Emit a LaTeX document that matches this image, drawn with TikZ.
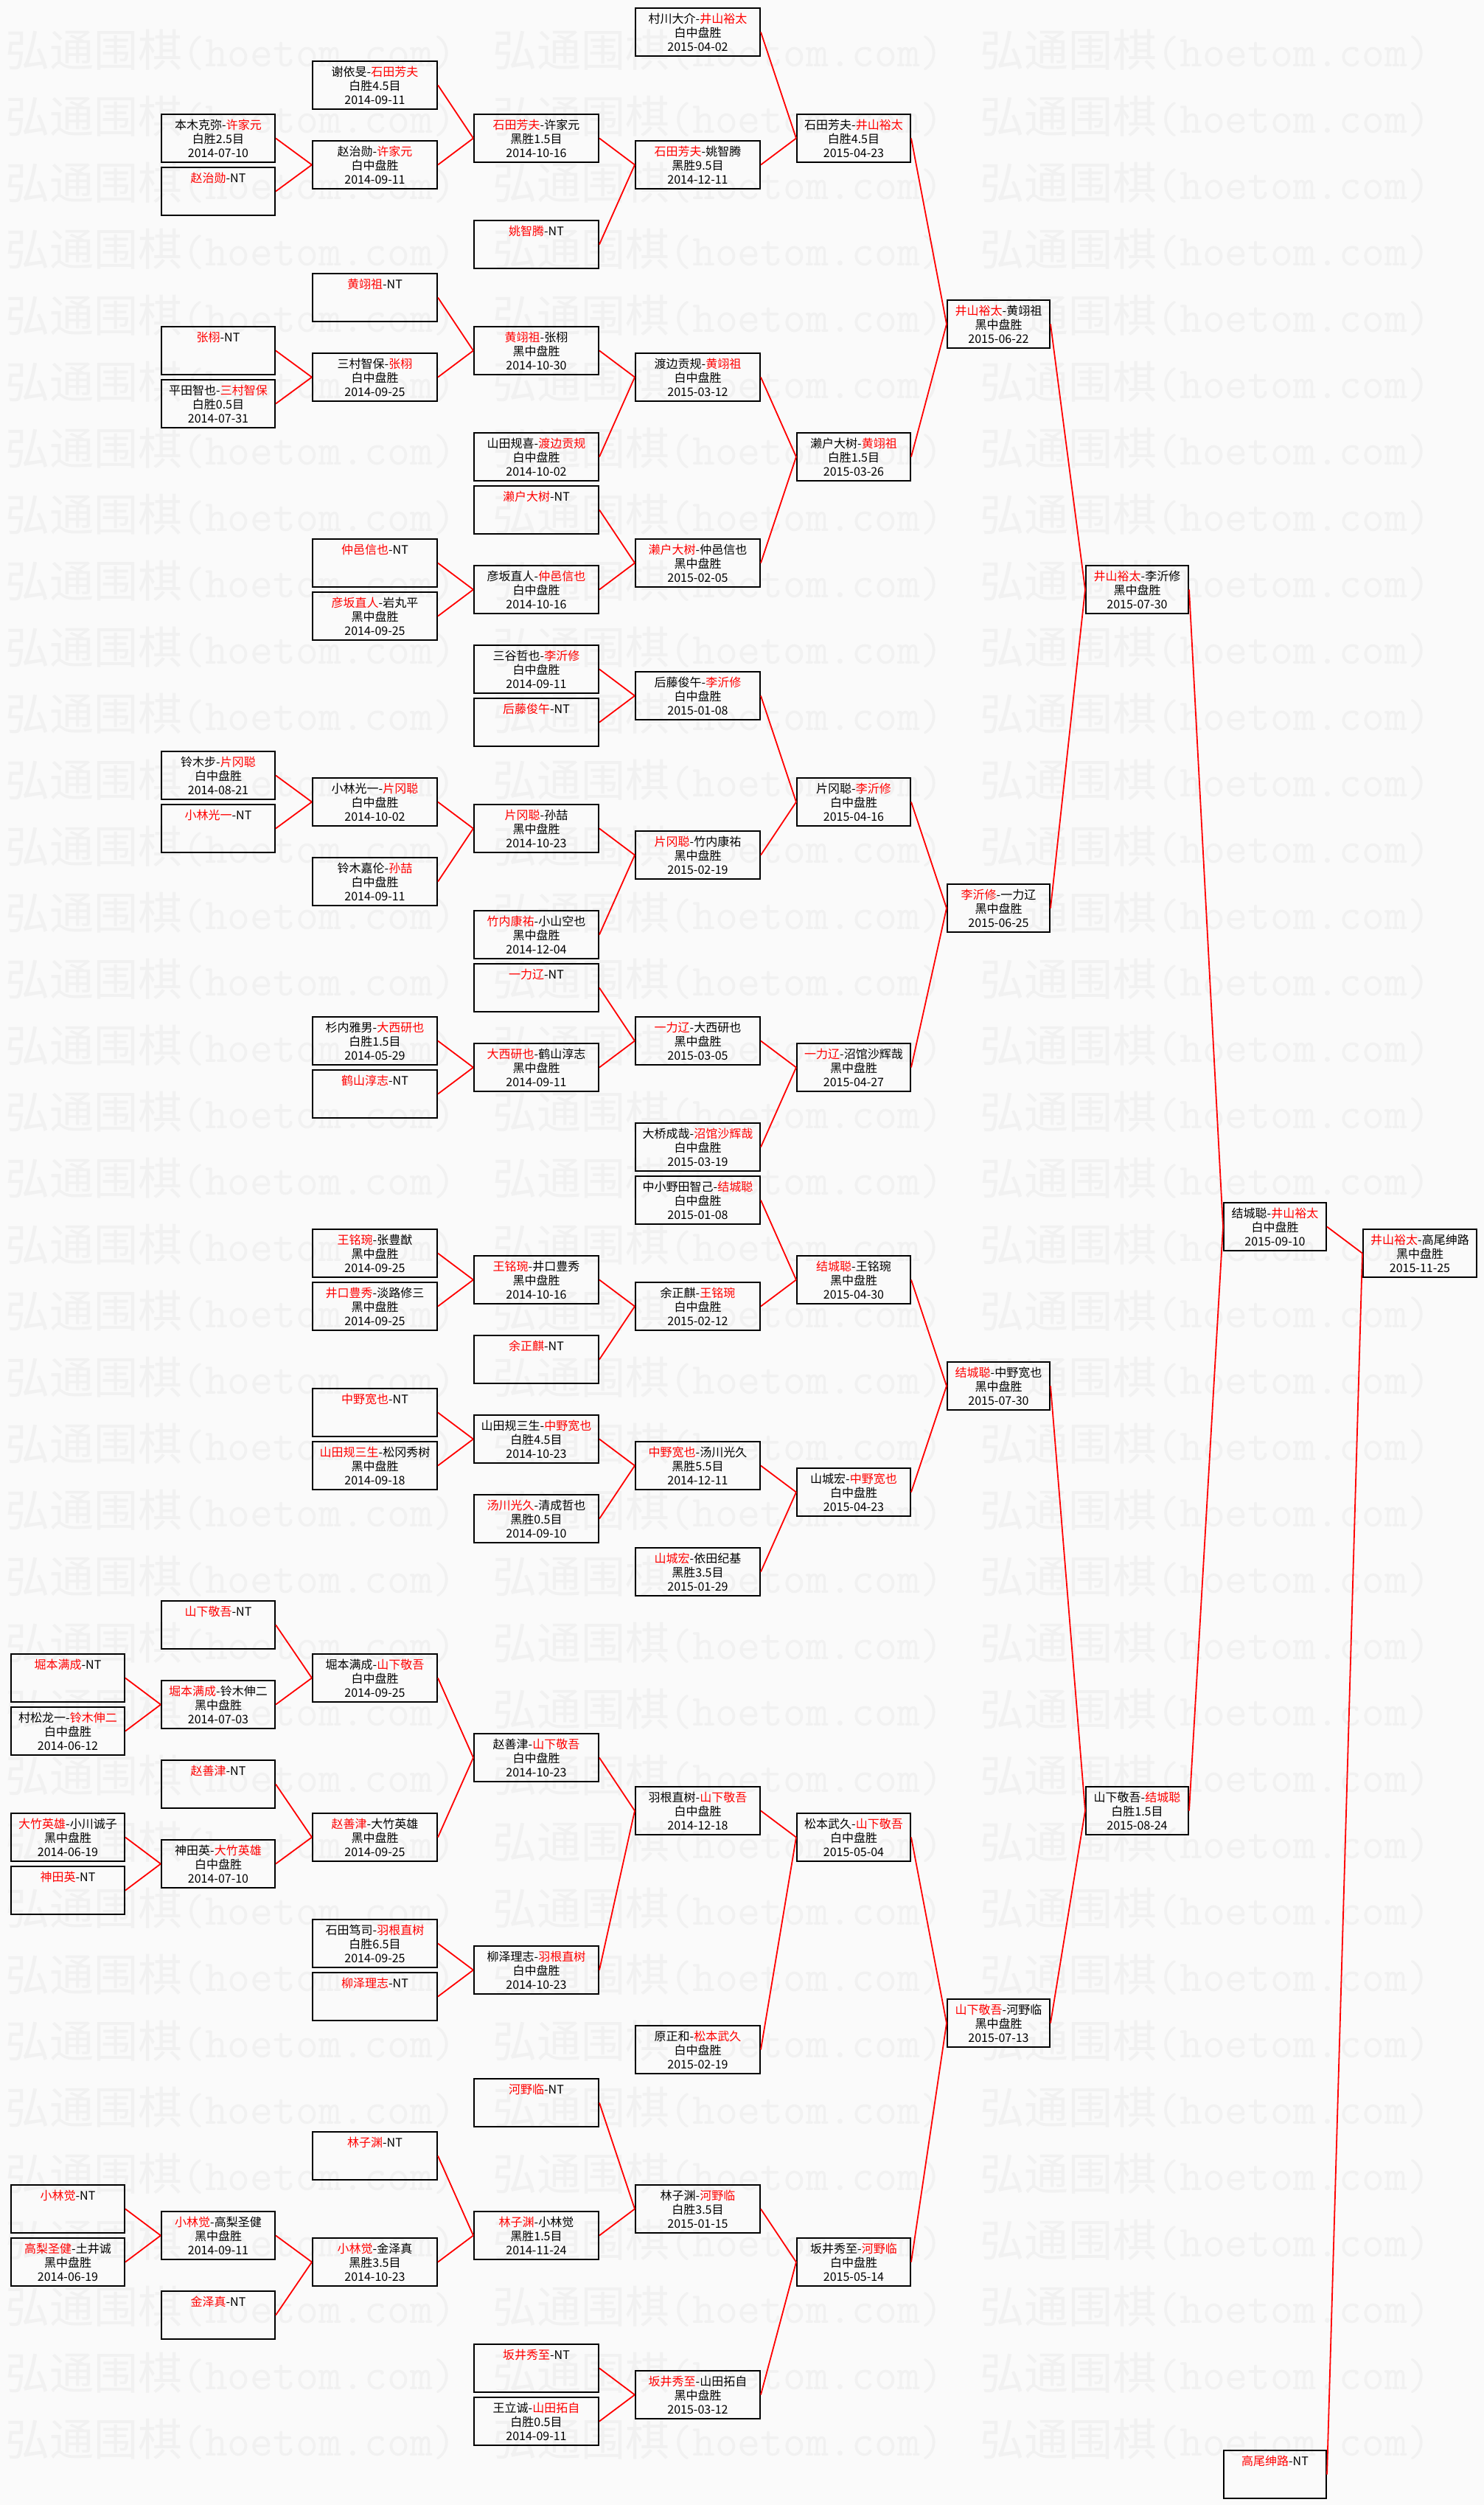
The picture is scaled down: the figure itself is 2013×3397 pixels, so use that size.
\documentclass[tikz,border=0pt]{standalone}
\usepackage{fontspec}
\newfontfamily\zh{Noto Sans CJK SC}
\definecolor{fon}{RGB}{250,250,250}
\definecolor{znak}{RGB}{241,241,241}
\definecolor{pobeda}{RGB}{255,0,0}
\newcommand{\win}[1]{\textcolor{pobeda}{#1}}

\begin{document}
\begin{tikzpicture}[x=1pt, y=-1pt,
    game/.style={draw, line width=2pt, anchor=north west, minimum height=65pt,
        inner sep=0pt, align=center, font=\zh\fontsize{16}{19}\selectfont},
    narrowbox/.style={game, minimum width=154pt},
    widebox/.style={game, minimum width=169pt},
    slimbox/.style={game, minimum width=139pt},
    link/.style={pobeda, line width=1.8pt},
    wmark/.style={znak, anchor=west, inner sep=0pt, font=\zh\fontsize{60}{60}\selectfont}]
    % Фон
    \useasboundingbox (0,0) rectangle (2013,3397);
    \fill[fon] (0,0) rectangle (2013,3397);
    \foreach \r in {0,...,36}
        \foreach \c in {0,1,2}
            \node[wmark] at ({7+661*\c},{68+90*\r}) {弘通围棋{\ttfamily(hoetom.com)}};

    % Колонка A
    \node[narrowbox] (a62) at (14,2242) {\win{堀本满成}-NT\\~\\~};
    \node[narrowbox] (a64) at (14,2314) {村松龙一-\win{铃木伸二}\\白中盘胜\\2014-06-12};
    \node[narrowbox] (a68) at (14,2458) {\win{大竹英雄}-小川诚子\\黑中盘胜\\2014-06-19};
    \node[narrowbox] (a70) at (14,2530) {\win{神田英}-NT\\~\\~};
    \node[narrowbox] (a82) at (14,2962) {\win{小林觉}-NT\\~\\~};
    \node[narrowbox] (a84) at (14,3034) {\win{高梨圣健}-土井诚\\黑中盘胜\\2014-06-19};

    % Колонка B
    \node[narrowbox] (b4) at (218,154) {本木克弥-\win{许家元}\\白胜2.5目\\2014-07-10};
    \node[narrowbox] (b6) at (218,226) {\win{赵治勋}-NT\\~\\~};
    \node[narrowbox] (b12) at (218,442) {\win{张栩}-NT\\~\\~};
    \node[narrowbox] (b14) at (218,514) {平田智也-\win{三村智保}\\白胜0.5目\\2014-07-31};
    \node[narrowbox] (b28) at (218,1018) {铃木步-\win{片冈聪}\\白中盘胜\\2014-08-21};
    \node[narrowbox] (b30) at (218,1090) {\win{小林光一}-NT\\~\\~};
    \node[narrowbox] (b60) at (218,2170) {\win{山下敬吾}-NT\\~\\~};
    \node[narrowbox] (b63) at (218,2278) {\win{堀本满成}-铃木伸二\\黑中盘胜\\2014-07-03};
    \node[narrowbox] (b66) at (218,2386) {\win{赵善津}-NT\\~\\~};
    \node[narrowbox] (b69) at (218,2494) {神田英-\win{大竹英雄}\\白中盘胜\\2014-07-10};
    \node[narrowbox] (b83) at (218,2998) {\win{小林觉}-高梨圣健\\黑中盘胜\\2014-09-11};
    \node[narrowbox] (b86) at (218,3106) {\win{金泽真}-NT\\~\\~};

    % Колонка C
    \node[widebox] (c2) at (423,82) {谢依旻-\win{石田芳夫}\\白胜4.5目\\2014-09-11};
    \node[widebox] (c5) at (423,190) {赵治勋-\win{许家元}\\白中盘胜\\2014-09-11};
    \node[widebox] (c10) at (423,370) {\win{黄翊祖}-NT\\~\\~};
    \node[widebox] (c13) at (423,478) {三村智保-\win{张栩}\\白中盘胜\\2014-09-25};
    \node[widebox] (c20) at (423,730) {\win{仲邑信也}-NT\\~\\~};
    \node[widebox] (c22) at (423,802) {\win{彦坂直人}-岩丸平\\黑中盘胜\\2014-09-25};
    \node[widebox] (c29) at (423,1054) {小林光一-\win{片冈聪}\\白中盘胜\\2014-10-02};
    \node[widebox] (c32) at (423,1162) {铃木嘉伦-\win{孙喆}\\白中盘胜\\2014-09-11};
    \node[widebox] (c38) at (423,1378) {杉内雅男-\win{大西研也}\\白胜1.5目\\2014-05-29};
    \node[widebox] (c40) at (423,1450) {\win{鹤山淳志}-NT\\~\\~};
    \node[widebox] (c46) at (423,1666) {\win{王铭琬}-张豊猷\\黑中盘胜\\2014-09-25};
    \node[widebox] (c48) at (423,1738) {\win{井口豊秀}-淡路修三\\黑中盘胜\\2014-09-25};
    \node[widebox] (c52) at (423,1882) {\win{中野宽也}-NT\\~\\~};
    \node[widebox] (c54) at (423,1954) {\win{山田规三生}-松冈秀树\\黑中盘胜\\2014-09-18};
    \node[widebox] (c62) at (423,2242) {堀本满成-\win{山下敬吾}\\白中盘胜\\2014-09-25};
    \node[widebox] (c68) at (423,2458) {\win{赵善津}-大竹英雄\\黑中盘胜\\2014-09-25};
    \node[widebox] (c72) at (423,2602) {石田笃司-\win{羽根直树}\\白胜6.5目\\2014-09-25};
    \node[widebox] (c74) at (423,2674) {\win{柳泽理志}-NT\\~\\~};
    \node[widebox] (c80) at (423,2890) {\win{林子渊}-NT\\~\\~};
    \node[widebox] (c84) at (423,3034) {\win{小林觉}-金泽真\\黑胜3.5目\\2014-10-23};

    % Колонка D
    \node[widebox] (d4) at (642,154) {\win{石田芳夫}-许家元\\黑胜1.5目\\2014-10-16};
    \node[widebox] (d8) at (642,298) {\win{姚智腾}-NT\\~\\~};
    \node[widebox] (d12) at (642,442) {\win{黄翊祖}-张栩\\黑中盘胜\\2014-10-30};
    \node[widebox] (d16) at (642,586) {山田规喜-\win{渡边贡规}\\白中盘胜\\2014-10-02};
    \node[widebox] (d18) at (642,658) {\win{濑户大树}-NT\\~\\~};
    \node[widebox] (d21) at (642,766) {彦坂直人-\win{仲邑信也}\\白中盘胜\\2014-10-16};
    \node[widebox] (d24) at (642,874) {三谷哲也-\win{李沂修}\\白中盘胜\\2014-09-11};
    \node[widebox] (d26) at (642,946) {\win{后藤俊午}-NT\\~\\~};
    \node[widebox] (d30) at (642,1090) {\win{片冈聪}-孙喆\\黑中盘胜\\2014-10-23};
    \node[widebox] (d34) at (642,1234) {\win{竹内康祐}-小山空也\\黑中盘胜\\2014-12-04};
    \node[widebox] (d36) at (642,1306) {\win{一力辽}-NT\\~\\~};
    \node[widebox] (d39) at (642,1414) {\win{大西研也}-鹤山淳志\\黑中盘胜\\2014-09-11};
    \node[widebox] (d47) at (642,1702) {\win{王铭琬}-井口豊秀\\黑中盘胜\\2014-10-16};
    \node[widebox] (d50) at (642,1810) {\win{余正麒}-NT\\~\\~};
    \node[widebox] (d53) at (642,1918) {山田规三生-\win{中野宽也}\\白胜4.5目\\2014-10-23};
    \node[widebox] (d56) at (642,2026) {\win{汤川光久}-清成哲也\\黑胜0.5目\\2014-09-10};
    \node[widebox] (d65) at (642,2350) {赵善津-\win{山下敬吾}\\白中盘胜\\2014-10-23};
    \node[widebox] (d73) at (642,2638) {柳泽理志-\win{羽根直树}\\白中盘胜\\2014-10-23};
    \node[widebox] (d78) at (642,2818) {\win{河野临}-NT\\~\\~};
    \node[widebox] (d83) at (642,2998) {\win{林子渊}-小林觉\\黑胜1.5目\\2014-11-24};
    \node[widebox] (d88) at (642,3178) {\win{坂井秀至}-NT\\~\\~};
    \node[widebox] (d90) at (642,3250) {王立诚-\win{山田拓自}\\白胜0.5目\\2014-09-11};

    % Колонка E
    \node[widebox] (e0) at (861,10) {村川大介-\win{井山裕太}\\白中盘胜\\2015-04-02};
    \node[widebox] (e5) at (861,190) {\win{石田芳夫}-姚智腾\\黑胜9.5目\\2014-12-11};
    \node[widebox] (e13) at (861,478) {渡边贡规-\win{黄翊祖}\\白中盘胜\\2015-03-12};
    \node[widebox] (e20) at (861,730) {\win{濑户大树}-仲邑信也\\黑中盘胜\\2015-02-05};
    \node[widebox] (e25) at (861,910) {后藤俊午-\win{李沂修}\\白中盘胜\\2015-01-08};
    \node[widebox] (e31) at (861,1126) {\win{片冈聪}-竹内康祐\\黑中盘胜\\2015-02-19};
    \node[widebox] (e38) at (861,1378) {\win{一力辽}-大西研也\\黑中盘胜\\2015-03-05};
    \node[widebox] (e42) at (861,1522) {大桥成哉-\win{沼馆沙辉哉}\\白中盘胜\\2015-03-19};
    \node[widebox] (e44) at (861,1594) {中小野田智己-\win{结城聪}\\白中盘胜\\2015-01-08};
    \node[widebox] (e48) at (861,1738) {余正麒-\win{王铭琬}\\白中盘胜\\2015-02-12};
    \node[widebox] (e54) at (861,1954) {\win{中野宽也}-汤川光久\\黑胜5.5目\\2014-12-11};
    \node[widebox] (e58) at (861,2098) {\win{山城宏}-依田纪基\\黑胜3.5目\\2015-01-29};
    \node[widebox] (e67) at (861,2422) {羽根直树-\win{山下敬吾}\\白中盘胜\\2014-12-18};
    \node[widebox] (e76) at (861,2746) {原正和-\win{松本武久}\\白中盘胜\\2015-02-19};
    \node[widebox] (e82) at (861,2962) {林子渊-\win{河野临}\\白胜3.5目\\2015-01-15};
    \node[widebox] (e89) at (861,3214) {\win{坂井秀至}-山田拓自\\黑中盘胜\\2015-03-12};

    % Колонка F
    \node[narrowbox] (f4) at (1080,154) {石田芳夫-\win{井山裕太}\\白胜4.5目\\2015-04-23};
    \node[narrowbox] (f16) at (1080,586) {濑户大树-\win{黄翊祖}\\白胜1.5目\\2015-03-26};
    \node[narrowbox] (f29) at (1080,1054) {片冈聪-\win{李沂修}\\白中盘胜\\2015-04-16};
    \node[narrowbox] (f39) at (1080,1414) {\win{一力辽}-沼馆沙辉哉\\黑中盘胜\\2015-04-27};
    \node[narrowbox] (f47) at (1080,1702) {\win{结城聪}-王铭琬\\黑中盘胜\\2015-04-30};
    \node[narrowbox] (f55) at (1080,1990) {山城宏-\win{中野宽也}\\白中盘胜\\2015-04-23};
    \node[narrowbox] (f68) at (1080,2458) {松本武久-\win{山下敬吾}\\白中盘胜\\2015-05-04};
    \node[narrowbox] (f84) at (1080,3034) {坂井秀至-\win{河野临}\\白中盘胜\\2015-05-14};

    % Колонки G, H, I, J
    \node[slimbox] (g11) at (1284,406) {\win{井山裕太}-黄翊祖\\黑中盘胜\\2015-06-22};
    \node[slimbox] (g33) at (1284,1198) {\win{李沂修}-一力辽\\黑中盘胜\\2015-06-25};
    \node[slimbox] (g51) at (1284,1846) {\win{结城聪}-中野宽也\\黑中盘胜\\2015-07-30};
    \node[slimbox] (g75) at (1284,2710) {\win{山下敬吾}-河野临\\黑中盘胜\\2015-07-13};
    \node[slimbox] (h21) at (1472,766) {\win{井山裕太}-李沂修\\黑中盘胜\\2015-07-30};
    \node[slimbox] (h67) at (1472,2422) {山下敬吾-\win{结城聪}\\白胜1.5目\\2015-08-24};
    \node[slimbox] (i45) at (1659,1630) {结城聪-\win{井山裕太}\\白中盘胜\\2015-09-10};
    \node[slimbox] (i92) at (1659,3322) {\win{高尾绅路}-NT\\~\\~};
    \node[narrowbox] (j46) at (1848,1666) {\win{井山裕太}-高尾绅路\\黑中盘胜\\2015-11-25};

    % Связи: верхняя сетка
    \draw[link] (b4.east) -- (c5.west) (b6.east) -- (c5.west);
    \draw[link] (c2.east) -- (d4.west) (c5.east) -- (d4.west);
    \draw[link] (d4.east) -- (e5.west) (d8.east) -- (e5.west);
    \draw[link] (e0.east) -- (f4.west) (e5.east) -- (f4.west);
    \draw[link] (b12.east) -- (c13.west) (b14.east) -- (c13.west);
    \draw[link] (c10.east) -- (d12.west) (c13.east) -- (d12.west);
    \draw[link] (d12.east) -- (e13.west) (d16.east) -- (e13.west);
    \draw[link] (c20.east) -- (d21.west) (c22.east) -- (d21.west);
    \draw[link] (d18.east) -- (e20.west) (d21.east) -- (e20.west);
    \draw[link] (e13.east) -- (f16.west) (e20.east) -- (f16.west);
    \draw[link] (f4.east) -- (g11.west) (f16.east) -- (g11.west);
    \draw[link] (d24.east) -- (e25.west) (d26.east) -- (e25.west);
    \draw[link] (b28.east) -- (c29.west) (b30.east) -- (c29.west);
    \draw[link] (c29.east) -- (d30.west) (c32.east) -- (d30.west);
    \draw[link] (d30.east) -- (e31.west) (d34.east) -- (e31.west);
    \draw[link] (e25.east) -- (f29.west) (e31.east) -- (f29.west);
    \draw[link] (c38.east) -- (d39.west) (c40.east) -- (d39.west);
    \draw[link] (d36.east) -- (e38.west) (d39.east) -- (e38.west);
    \draw[link] (e38.east) -- (f39.west) (e42.east) -- (f39.west);
    \draw[link] (f29.east) -- (g33.west) (f39.east) -- (g33.west);
    \draw[link] (g11.east) -- (h21.west) (g33.east) -- (h21.west);

    % Связи: нижняя сетка
    \draw[link] (c46.east) -- (d47.west) (c48.east) -- (d47.west);
    \draw[link] (d47.east) -- (e48.west) (d50.east) -- (e48.west);
    \draw[link] (e44.east) -- (f47.west) (e48.east) -- (f47.west);
    \draw[link] (c52.east) -- (d53.west) (c54.east) -- (d53.west);
    \draw[link] (d53.east) -- (e54.west) (d56.east) -- (e54.west);
    \draw[link] (e54.east) -- (f55.west) (e58.east) -- (f55.west);
    \draw[link] (f47.east) -- (g51.west) (f55.east) -- (g51.west);
    \draw[link] (a62.east) -- (b63.west) (a64.east) -- (b63.west);
    \draw[link] (b60.east) -- (c62.west) (b63.east) -- (c62.west);
    \draw[link] (a68.east) -- (b69.west) (a70.east) -- (b69.west);
    \draw[link] (b66.east) -- (c68.west) (b69.east) -- (c68.west);
    \draw[link] (c62.east) -- (d65.west) (c68.east) -- (d65.west);
    \draw[link] (c72.east) -- (d73.west) (c74.east) -- (d73.west);
    \draw[link] (d65.east) -- (e67.west) (d73.east) -- (e67.west);
    \draw[link] (e67.east) -- (f68.west) (e76.east) -- (f68.west);
    \draw[link] (a82.east) -- (b83.west) (a84.east) -- (b83.west);
    \draw[link] (b83.east) -- (c84.west) (b86.east) -- (c84.west);
    \draw[link] (c80.east) -- (d83.west) (c84.east) -- (d83.west);
    \draw[link] (d78.east) -- (e82.west) (d83.east) -- (e82.west);
    \draw[link] (d88.east) -- (e89.west) (d90.east) -- (e89.west);
    \draw[link] (e82.east) -- (f84.west) (e89.east) -- (f84.west);
    \draw[link] (f68.east) -- (g75.west) (f84.east) -- (g75.west);
    \draw[link] (g51.east) -- (h67.west) (g75.east) -- (h67.west);

    % Финал
    \draw[link] (h21.east) -- (i45.west) (h67.east) -- (i45.west);
    \draw[link] (i45.east) -- (j46.west) (i92.east) -- (j46.west);
\end{tikzpicture}
\end{document}
